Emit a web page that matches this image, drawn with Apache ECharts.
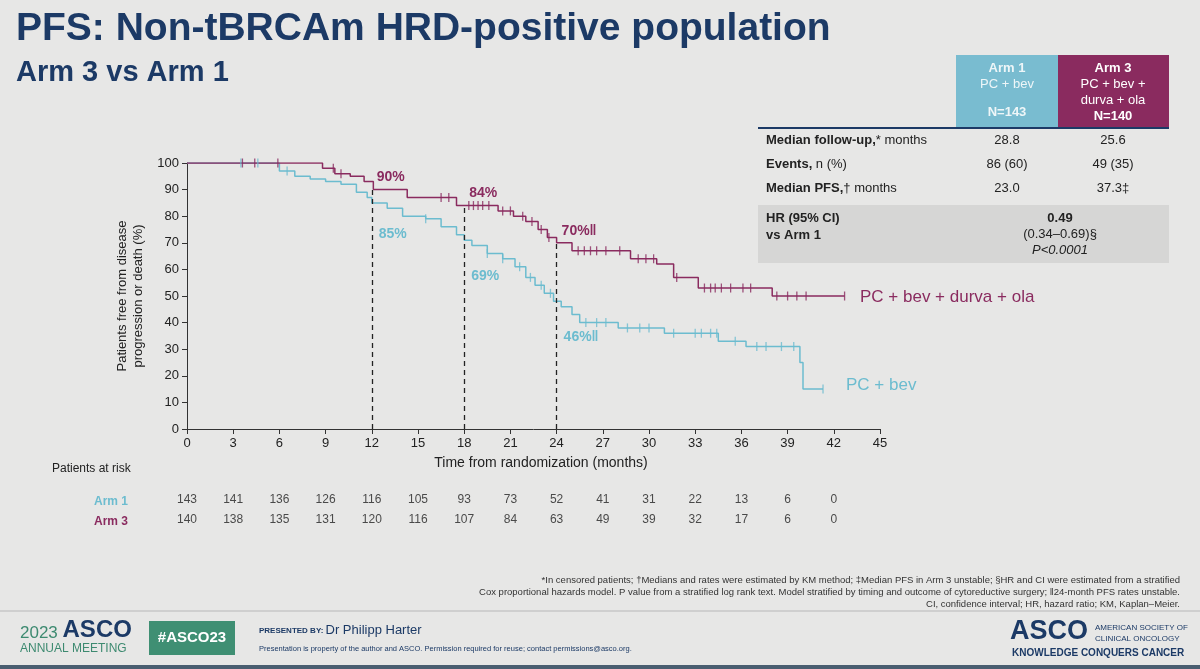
<!DOCTYPE html>
<html><head><meta charset="utf-8">
<script src="https://cdn.jsdelivr.net/npm/echarts@6/dist/echarts.min.js"></script>
<style>html,body{margin:0;background:#e7e7e6}#c{width:1200px;height:669px}</style>
</head><body><div id="c"></div>
<script>
const xTicks=[0,3,6,9,12,15,18,21,24,27,30,33,36,39,42,45];
const arm3Curve=[[0,100],[8.8,98],[9.6,96],[10.6,95],[11.5,93],[12.1,90],[14.3,87],[17.5,84],[20.2,82],[21.2,80],[22,78],[22.8,75],[23.4,72],[24,70],[25,67],[28.8,64],[30.5,62],[31.6,57],[33.2,53],[38,50],[42.7,50]];
const arm1Curve=[[0,100],[6,97],[7,95],[8,94],[9,93],[10,92],[11,89],[11.7,87],[12,85],[13,83],[14,80],[15.5,79],[16.5,76],[17.5,73],[18,71],[18.5,69],[19.5,66],[20.5,64],[21.3,61],[22,57],[22.6,54],[23.2,51],[23.8,48],[24.3,46],[25,43],[25.5,40],[28,38],[31,36],[34.5,33],[36.3,31],[39.8,25],[40,15],[41.3,15]];
const arm3Censor=[[3.6,100],[4.4,100],[5.9,100],[9.5,98],[10,96],[16.5,87],[17,87],[18.3,84],[18.6,84],[18.9,84],[19.2,84],[19.6,84],[20.5,82],[21,82],[21.8,80],[22.4,78],[23,75],[23.5,72],[25.4,67],[25.8,67],[26.2,67],[26.6,67],[27.2,67],[28.1,67],[29.3,64],[29.8,64],[30.3,64],[31.8,57],[33.6,53],[34,53],[34.3,53],[34.7,53],[35.3,53],[36.1,53],[36.6,53],[38.3,50],[39,50],[39.6,50],[40.2,50],[42.7,50]];
const arm1Censor=[[3.5,100],[4.6,100],[6.5,97],[15.5,79],[19.5,66],[20.5,64],[21.6,61],[22.3,57],[23,54],[23.6,51],[25.9,40],[26.6,40],[27.2,40],[28.6,38],[29.4,38],[30,38],[31.6,36],[33,36],[33.4,36],[34,36],[34.4,36],[35.6,33],[37,31],[37.6,31],[38.6,31],[39.4,31],[41.3,15]];
const riskArm1=[143,141,136,126,116,105,93,73,52,41,31,22,13,6,0];
const riskArm3=[140,138,135,131,120,116,107,84,63,49,39,32,17,6,0];
const landmarks=[[12,90,85],[18,84,69],[24,70,46]];
const P='#8a2b5f',C='#6cbccf',N='#1c3a66';
const ch=echarts.init(document.getElementById('c'));
const g=[
 {type:'text',left:16,top:10,style:{text:'PFS: Non-tBRCAm HRD-positive population',fill:N,font:'bold 39px Arial'}},
 {type:'text',left:16,top:58,style:{text:'Arm 3 vs Arm 1',fill:N,font:'bold 29px Arial'}},
 {type:'rect',shape:{x:956,y:55,width:102,height:72},style:{fill:'#79bcd0'}},
 {type:'rect',shape:{x:1058,y:55,width:111,height:72},style:{fill:'#8a2b5f'}},
 {type:'text',x:1007,y:60,style:{text:'{b|Arm 1}\n{n|PC + bev}\n\n{b|N=143}',align:'center',rich:{b:{font:'bold 13px Arial',fill:'#eef6f8',lineHeight:16},n:{font:'13px Arial',fill:'#eef6f8',lineHeight:16}}}},
 {type:'text',x:1113,y:60,style:{text:'{b|Arm 3}\n{n|PC + bev +}\n{n|durva + ola}\n{b|N=140}',align:'center',rich:{b:{font:'bold 13px Arial',fill:'#fff',lineHeight:16},n:{font:'13px Arial',fill:'#fff',lineHeight:16}}}},
 {type:'line',shape:{x1:758,y1:128,x2:1169,y2:128},style:{stroke:N,lineWidth:2}},
 {type:'rect',shape:{x:758,y:205,width:411,height:58},style:{fill:'#d6d6d5'}},
 {type:'text',x:766,y:134,style:{text:'{b|Median follow-up,}{n|* months}',rich:{b:{font:'bold 13px Arial',fill:'#222'},n:{font:'13px Arial',fill:'#222'}}}},
 {type:'text',x:766,y:158,style:{text:'{b|Events,}{n| n (%)}',rich:{b:{font:'bold 13px Arial',fill:'#222'},n:{font:'13px Arial',fill:'#222'}}}},
 {type:'text',x:766,y:182,style:{text:'{b|Median PFS,}{n|† months}',rich:{b:{font:'bold 13px Arial',fill:'#222'},n:{font:'13px Arial',fill:'#222'}}}},
 {type:'text',x:766,y:210,style:{text:'HR (95% CI)\nvs Arm 1',font:'bold 13px Arial',fill:'#222',lineHeight:17}},
 {type:'text',x:1007,y:134,style:{text:'28.8\n\n86 (60)\n\n23.0',align:'center',font:'13px Arial',fill:'#222',lineHeight:12}},
 {type:'text',x:1113,y:134,style:{text:'25.6\n\n49 (35)\n\n37.3‡',align:'center',font:'13px Arial',fill:'#222',lineHeight:12}},
 {type:'text',x:1060,y:210,style:{text:'{b|0.49}\n{n|(0.34–0.69)§}\n{i|P<0.0001}',align:'center',rich:{b:{font:'bold 13px Arial',fill:'#222',lineHeight:16,align:'center'},n:{font:'13px Arial',fill:'#222',lineHeight:16,align:'center'},i:{font:'italic 13px Arial',fill:'#222',lineHeight:16,align:'center'}}}},
 {type:'text',x:860,y:289,style:{text:'PC + bev + durva + ola',font:'17px Arial',fill:P}},
 {type:'text',x:846,y:377,style:{text:'PC + bev',font:'17px Arial',fill:C}},
 {type:'text',x:130,y:296,rotation:Math.PI/2,style:{text:'Patients free from disease\nprogression or death (%)',align:'center',verticalAlign:'middle',font:'13px Arial',fill:'#222',lineHeight:16}},
 {type:'text',x:541,y:463,style:{text:'Time from randomization (months)',align:'center',verticalAlign:'middle',font:'14px Arial',fill:'#222'}},
 {type:'text',x:52,y:463,style:{text:'Patients at risk',font:'12px Arial',fill:'#222'}},
 {type:'text',x:128,y:496,style:{text:'Arm 1',align:'right',font:'bold 12px Arial',fill:C}},
 {type:'text',x:128,y:516,style:{text:'Arm 3',align:'right',font:'bold 12px Arial',fill:P}},
 {type:'text',x:1180,y:574,style:{text:'*In censored patients; †Medians and rates were estimated by KM method; ‡Median PFS in Arm 3 unstable; §HR and CI were estimated from a stratified\nCox proportional hazards model. P value from a stratified log rank text. Model stratified by timing and outcome of cytoreductive surgery; ‖24-month PFS rates unstable.\nCI, confidence interval; HR, hazard ratio; KM, Kaplan–Meier.',align:'right',font:'9.5px "Liberation Sans Narrow", Arial',fill:'#333',lineHeight:12}},
 {type:'line',shape:{x1:0,y1:611,x2:1200,y2:611},style:{stroke:'#cfcfcf',lineWidth:2}},
 {type:'rect',shape:{x:0,y:665,width:1200,height:4},style:{fill:'#4a5e70'}},
 {type:'text',x:20,y:618,style:{text:'{a|2023 }{b|ASCO}',rich:{a:{font:'17px Arial',fill:'#3d8a70',verticalAlign:'bottom'},b:{font:'bold 24px Arial',fill:N,verticalAlign:'bottom'}}}},
 {type:'text',x:20,y:643,style:{text:'ANNUAL MEETING',font:'12px Arial',fill:'#3d8a70'}},
 {type:'rect',shape:{x:149,y:621,width:86,height:34},style:{fill:'#3f8f73'}},
 {type:'text',x:192,y:638,style:{text:'#ASCO23',align:'center',verticalAlign:'middle',font:'bold 15px Arial',fill:'#fff'}},
 {type:'text',x:259,y:624,style:{text:'{a|PRESENTED BY: }{b|Dr Philipp Harter}',rich:{a:{font:'bold 8px Arial',fill:N},b:{font:'13px Arial',fill:N}}}},
 {type:'text',x:259,y:645,style:{text:'Presentation is property of the author and ASCO. Permission required for reuse; contact permissions@asco.org.',font:'7.5px Arial',fill:N}},
 {type:'text',x:1010,y:618,style:{text:'ASCO',font:'bold 27px Arial',fill:N}},
 {type:'text',x:1095,y:622,style:{text:'AMERICAN SOCIETY OF\nCLINICAL ONCOLOGY',font:'8px Arial',fill:N,lineHeight:11}},
 {type:'text',x:1012,y:648,style:{text:'KNOWLEDGE CONQUERS CANCER',font:'bold 10px Arial',fill:N}}
];
const lm=landmarks.map(l=>[{coord:[l[0],0]},{coord:[l[0],l[1]]}]);
const lbl=(arr,idx,dx,dy)=>arr.map(l=>({coord:[l[0],l[idx]],value:l[idx]+'%'+(l[0]===24?'ǁ':''),label:{offset:[dx,dy]}}));
const cens=(d,c)=>({type:'scatter',data:d,symbol:'rect',symbolSize:[1.3,9],itemStyle:{color:c},z:5,silent:true});
ch.setOption({
 animation:false,backgroundColor:'#e7e7e6',graphic:g,
 grid:[{left:187,top:163,width:693,height:266},{left:187,top:490,width:693,height:40}],
 xAxis:[{type:'value',min:0,max:45,interval:3,axisLine:{lineStyle:{color:'#333'}},axisTick:{lineStyle:{color:'#333'}},splitLine:{show:false},axisLabel:{color:'#222',fontSize:13,fontFamily:'Arial'}},
  {type:'value',gridIndex:1,min:0,max:45,interval:3,show:false}],
 yAxis:[{type:'value',min:0,max:100,interval:10,axisLine:{show:true,lineStyle:{color:'#333'}},axisTick:{show:true,lineStyle:{color:'#333'}},splitLine:{show:false},axisLabel:{color:'#222',fontSize:13,fontFamily:'Arial'}},
  {type:'category',gridIndex:1,data:['Arm 3','Arm 1'],show:false}],
 series:[
  {type:'line',step:'end',data:arm1Curve,symbol:'none',lineStyle:{color:C,width:1.5},z:3,
   markPoint:{symbol:'circle',symbolSize:0,label:{color:C,fontWeight:'bold',fontSize:14,fontFamily:'Arial',position:'right'},data:lbl(landmarks,2,2,31)}},
  {type:'line',step:'end',data:arm3Curve,symbol:'none',lineStyle:{color:P,width:1.5},z:4,
   markLine:{silent:true,symbol:'none',label:{show:false},lineStyle:{color:'#222',type:[5,4],width:1.3},data:lm},
   markPoint:{symbol:'circle',symbolSize:0,label:{color:P,fontWeight:'bold',fontSize:14,fontFamily:'Arial',position:'right'},data:lbl(landmarks,1,0,-12)}},
  cens(arm1Censor,C),cens(arm3Censor,P),
  {type:'scatter',xAxisIndex:1,yAxisIndex:1,symbolSize:0,data:riskArm1.map((v,i)=>[xTicks[i],'Arm 1',v]),label:{show:true,position:'inside',formatter:p=>p.value[2],color:'#222',fontSize:12,fontFamily:'Arial'}},
  {type:'scatter',xAxisIndex:1,yAxisIndex:1,symbolSize:0,data:riskArm3.map((v,i)=>[xTicks[i],'Arm 3',v]),label:{show:true,position:'inside',formatter:p=>p.value[2],color:'#222',fontSize:12,fontFamily:'Arial'}}
 ]
});
</script></body></html>
